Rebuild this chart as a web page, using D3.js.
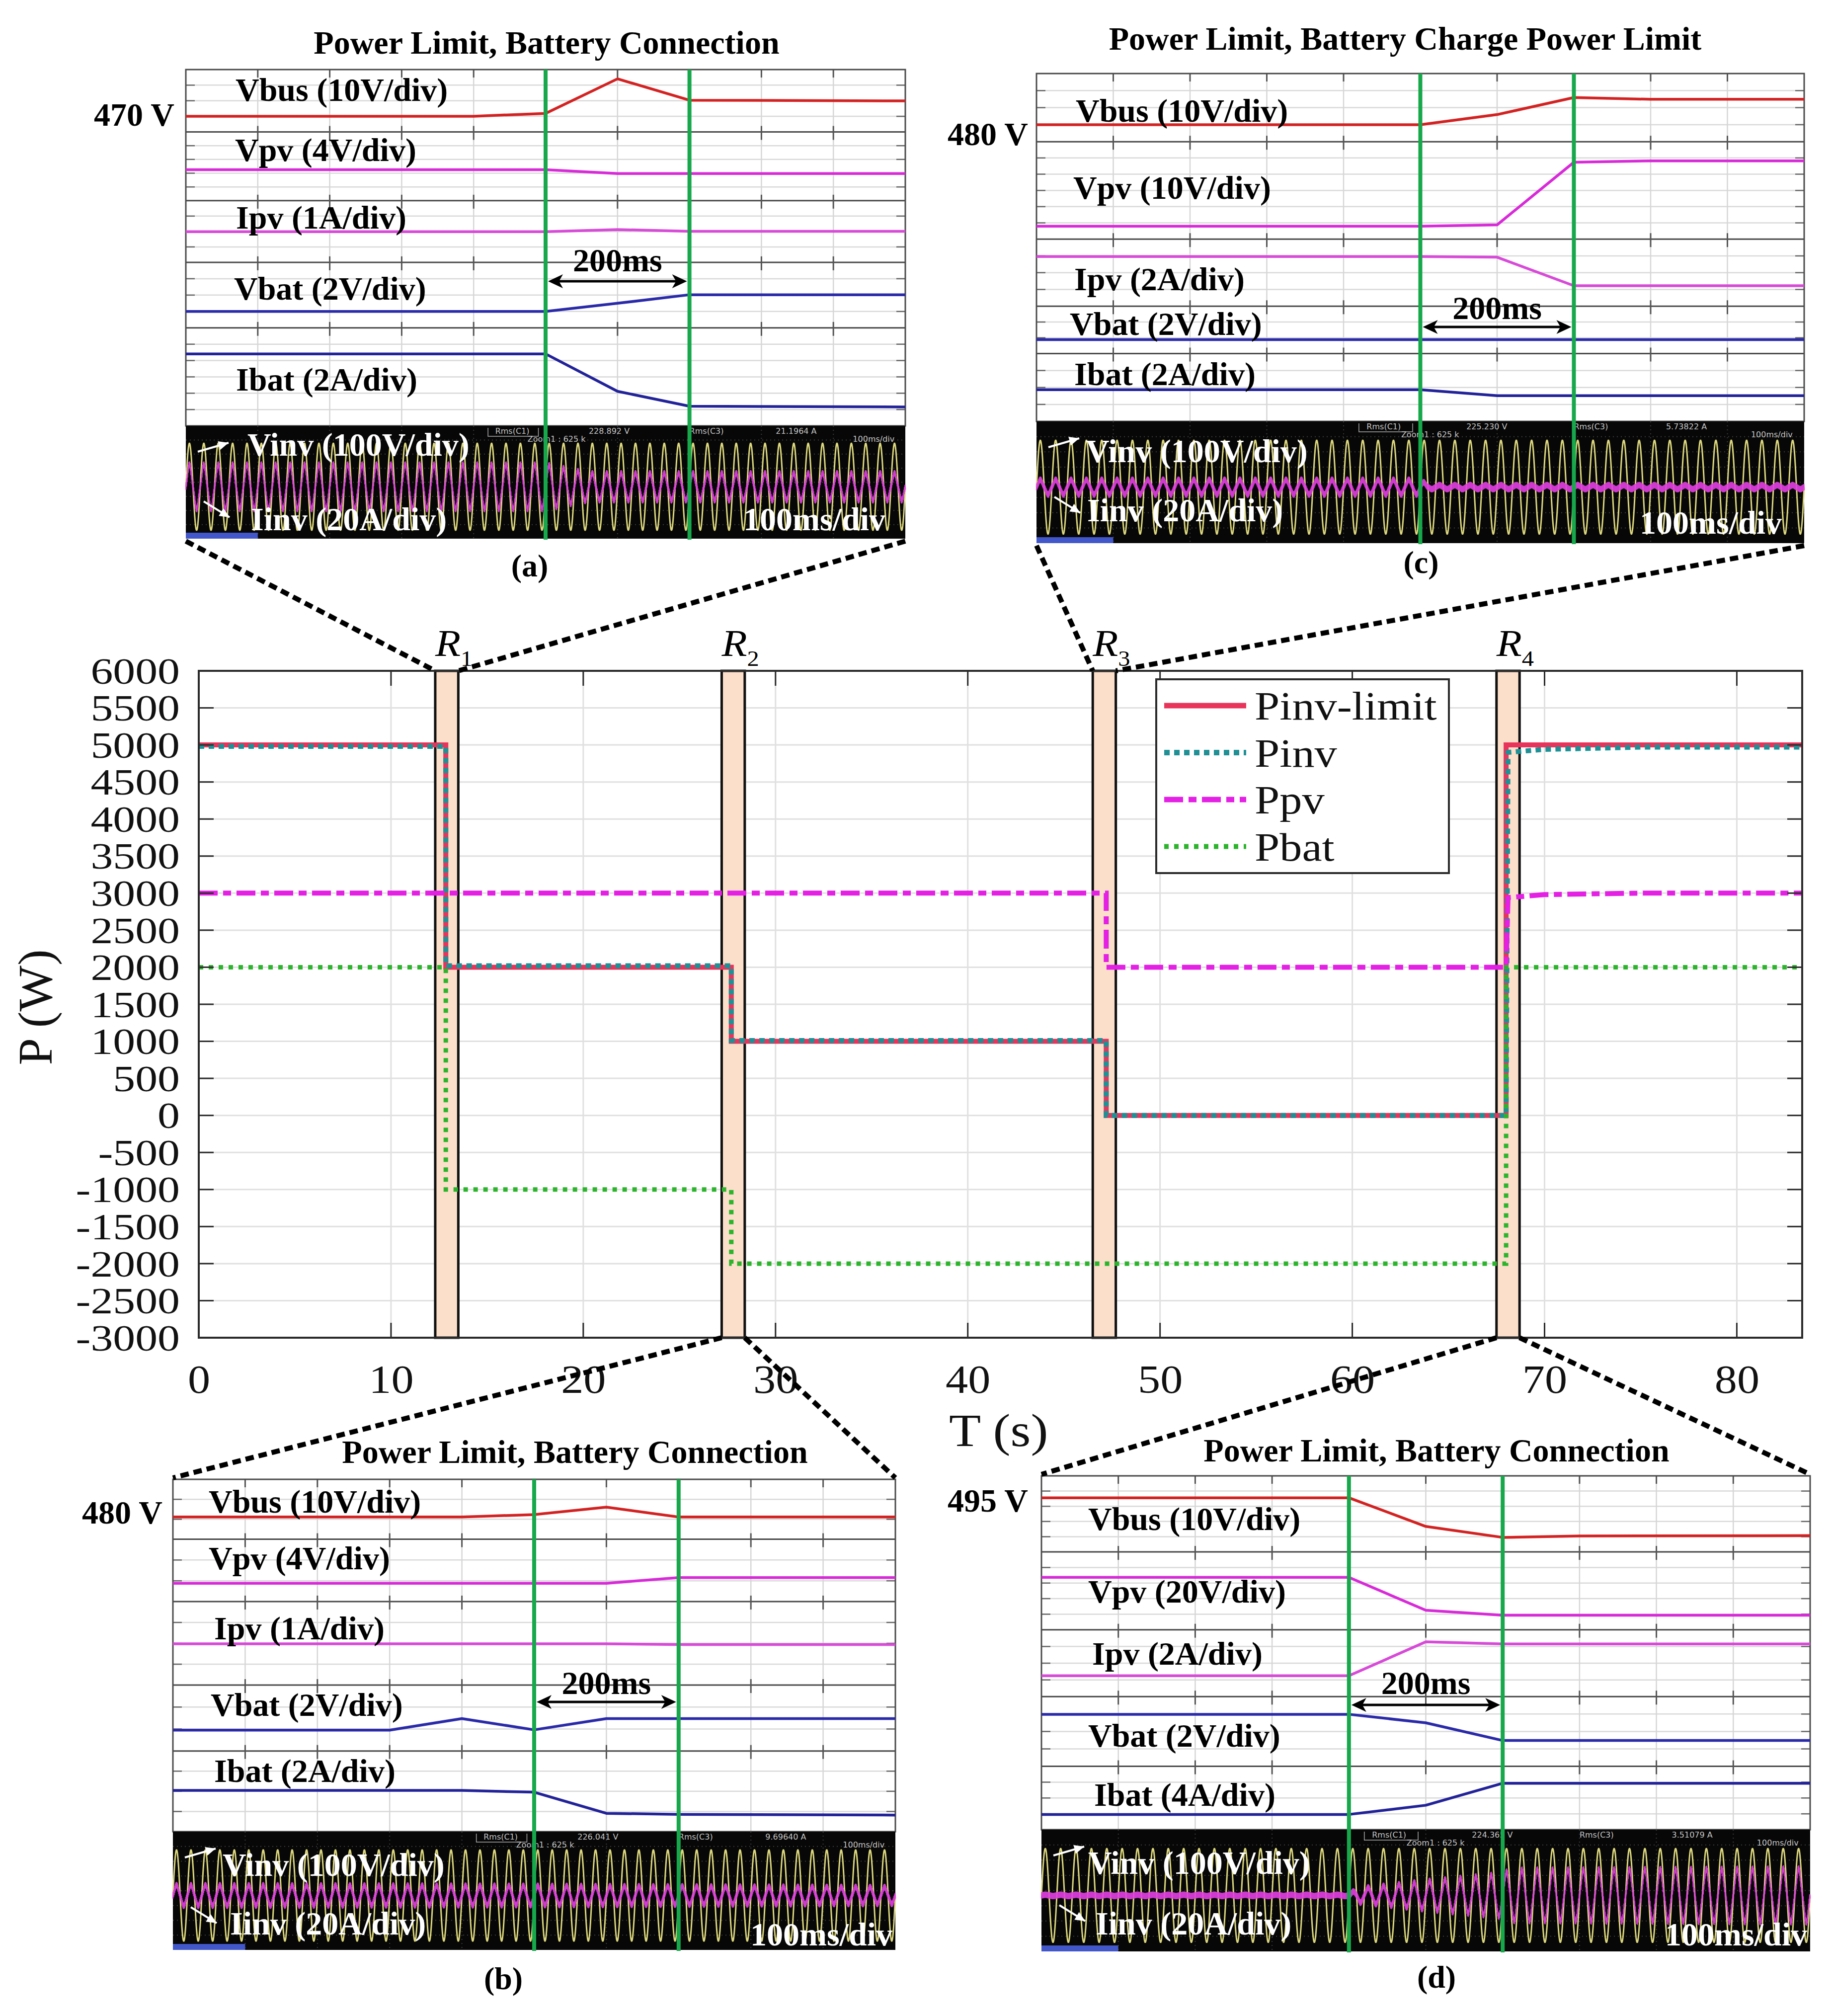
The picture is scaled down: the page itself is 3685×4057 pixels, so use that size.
<!DOCTYPE html>
<html><head><meta charset="utf-8">
<script src="https://cdn.jsdelivr.net/npm/d3@7"></script>
<style>body{margin:0;background:#fff}</style>
</head><body>
<svg id="fig" width="3685" height="4057" xmlns="http://www.w3.org/2000/svg"></svg>
<script>
// ================= MAIN CHART DATA =================
const xTickVals = [0, 10, 20, 30, 40, 50, 60, 70, 80];
const yTickVals = [-3000, -2500, -2000, -1500, -1000, -500, 0, 500, 1000, 1500, 2000, 2500, 3000, 3500, 4000, 4500, 5000, 5500, 6000];
const seriesNames = ["Pinv-limit", "Pinv", "Ppv", "Pbat"];
const pinvLimit = [[0,5000],[12.85,5000],[12.85,2000],[27.7,2000],[27.7,1000],[47.2,1000],[47.2,0],[68.0,0],[68.0,5000],[83.4,5000]];
const pinv = [[0,4980],[12.85,4980],[12.85,2020],[27.7,2020],[27.7,1010],[47.2,1010],[47.2,0],[68.0,0],[68.1,4900],[70,4940],[75,4970],[83.4,4970]];
const ppv = [[0,3000],[47.2,3000],[47.2,2000],[68.0,2000],[68.1,2940],[70,2980],[75,3000],[83.4,3000]];
const pbat = [[0,2000],[12.85,2000],[12.85,-1000],[27.7,-1000],[27.7,-2000],[68.0,-2000],[68.0,2000],[83.4,2000]];
const regions = [[12.3,13.5],[27.2,28.4],[46.5,47.7],[67.5,68.7]];
const regionSubs = ["1","2","3","4"];

// ================= OSCILLOSCOPE PANEL DATA (time ms, screen % from top) =================
const chanNamesAB = ["Vbus (10V/div)","Vpv (4V/div)","Ipv (1A/div)","Vbat (2V/div)","Ibat (2A/div)"];
const chanNamesC = ["Vbus (10V/div)","Vpv (10V/div)","Ipv (2A/div)","Vbat (2V/div)","Ibat (2A/div)"];
const chanNamesD = ["Vbus (10V/div)","Vpv (20V/div)","Ipv (2A/div)","Vbat (2V/div)","Ibat (4A/div)"];
const panelTitles = ["Power Limit, Battery Connection","Power Limit, Battery Connection","Power Limit, Battery Charge Power Limit","Power Limit, Battery Connection"];
const panelLetters = ["(a)","(b)","(c)","(d)"];
const busLevels = ["470 V","480 V","480 V","495 V"];
const rmsVolt = ["228.892 V","226.041 V","225.230 V","224.365 V"];
const rmsAmp = ["21.1964 A","9.69640 A","5.73822 A","3.51079 A"];

const aVbus = [[0,13.1],[400,13.1],[500,12.3],[600,2.6],[700,8.6],[1000,8.8]];
const aVpv  = [[0,28.1],[500,28.1],[600,29.2],[1000,29.2]];
const aIpv  = [[0,45.5],[500,45.5],[600,44.9],[700,45.4],[1000,45.4]];
const aVbat = [[0,67.9],[500,67.9],[600,65.6],[700,63.2],[1000,63.2]];
const aIbat = [[0,79.8],[500,79.8],[600,90.3],[700,94.5],[1000,94.7]];
const aIinvEnv = [[0,18],[500,18],[560,11],[1000,11]];

const bVbus = [[0,10.7],[400,10.7],[500,10.0],[600,7.9],[700,10.7],[1000,10.7]];
const bVpv  = [[0,29.5],[600,29.5],[700,27.9],[1000,27.9]];
const bIpv  = [[0,46.7],[600,46.7],[700,46.9],[1000,46.9]];
const bVbat = [[0,71.2],[300,71.2],[400,67.9],[500,71.1],[600,67.9],[1000,67.9]];
const bIbat = [[0,88.3],[400,88.3],[500,88.8],[600,94.8],[700,95.1],[1000,95.3]];
const bIinvEnv = [[0,8],[500,7.5],[1000,6.5]];

const cVbus = [[0,14.7],[500,14.7],[600,11.8],[700,6.9],[800,7.4],[1000,7.4]];
const cVpv  = [[0,43.9],[500,43.9],[600,43.5],[700,25.5],[800,25.1],[1000,25.1]];
const cIpv  = [[0,52.6],[500,52.6],[600,52.8],[700,61.0],[1000,61.0]];
const cVbat = [[0,76.5],[1000,76.5]];
const cIbat = [[0,90.9],[500,90.9],[600,92.6],[1000,92.6]];
const cIinvEnv = [[0,5.5],[500,5.5],[510,1.5],[1000,1.5]];

const dVbus = [[0,6.2],[400,6.2],[500,14.3],[600,17.4],[700,17.0],[1000,16.9]];
const dVpv  = [[0,28.7],[400,28.7],[500,38.0],[600,39.4],[1000,39.4]];
const dIpv  = [[0,56.5],[400,56.5],[500,46.9],[600,47.5],[1000,47.5]];
const dVbat = [[0,67.4],[400,67.4],[500,69.8],[600,74.8],[1000,74.8]];
const dIbat = [[0,95.7],[400,95.7],[500,93.1],[600,86.9],[1000,86.9]];
const dIinvEnv = [[0,0.5],[400,0.5],[410,5],[500,10.5],[600,16],[610,19],[1000,20]];

const vinvAmp = 38.5;        // % of black area height
const acCycles = 50;         // 50 Hz over 1000 ms
const iinvRipple = 2.6;      // switching ripple band, % of black height

// ================= DRAWING =================
const SERIF = "'Liberation Serif','Times New Roman',serif";
const svg = d3.select("#fig");
svg.append("rect").attr("width",3685).attr("height",4057).attr("fill","#fff");

function stext(parent, x, y, str, size, opt={}) {
  const t = parent.append("text")
    .attr("transform", `translate(${x},${y}) scale(${opt.sx||1},1)`)
    .attr("font-family", SERIF).attr("font-size", size)
    .attr("font-weight", opt.bold ? "bold" : "normal")
    .attr("font-style", opt.italic ? "italic" : "normal")
    .attr("text-anchor", opt.anchor || "start")
    .attr("fill", opt.fill || "#000")
    .text(str);
  return t;
}

// ---------- main chart ----------
const M = {l:400, r:3627, t:1350, b:2692};
const x = d3.scaleLinear().domain([0, 83.4]).range([M.l, M.r]);
const y = d3.scaleLinear().domain([-3000, 6000]).range([M.b, M.t]);
const main = svg.append("g");

main.append("g").selectAll("line").data(xTickVals.filter(v => v > 0)).join("line")
  .attr("x1", d => x(d)).attr("x2", d => x(d)).attr("y1", M.t).attr("y2", M.b)
  .attr("stroke", "#e0e0e0").attr("stroke-width", 3);
main.append("g").selectAll("line").data(yTickVals.filter(v => v > -3000 && v < 6000)).join("line")
  .attr("x1", M.l).attr("x2", M.r).attr("y1", d => y(d)).attr("y2", d => y(d))
  .attr("stroke", "#e0e0e0").attr("stroke-width", 3);

main.append("g").selectAll("rect").data(regions).join("rect")
  .attr("x", d => x(d[0])).attr("width", d => x(d[1]) - x(d[0]))
  .attr("y", M.t).attr("height", M.b - M.t)
  .attr("fill", "#fbdfca").attr("stroke", "#111").attr("stroke-width", 5);

const seriesStyle = [
  {data: pinvLimit, color: "#e8345a", w: 10, dash: null},
  {data: pinv, color: "#1f9095", w: 10, dash: "11 9"},
  {data: ppv, color: "#e320e3", w: 10, dash: "38 11 16 11"},
  {data: pbat, color: "#2cb52c", w: 9, dash: "9 11"}
];
const line = d3.line().x(d => x(d[0])).y(d => y(d[1]));
seriesStyle.forEach(s => {
  main.append("path").attr("d", line(s.data)).attr("fill", "none")
    .attr("stroke", s.color).attr("stroke-width", s.w)
    .attr("stroke-dasharray", s.dash);
});

main.append("rect").attr("x", M.l).attr("y", M.t).attr("width", M.r - M.l).attr("height", M.b - M.t)
  .attr("fill", "none").attr("stroke", "#2a2a2a").attr("stroke-width", 4);
main.append("g").selectAll("line").data(yTickVals).join("line")
  .attr("x1", M.r - 30).attr("x2", M.r).attr("y1", d => y(d)).attr("y2", d => y(d))
  .attr("stroke", "#2a2a2a").attr("stroke-width", 3);
main.append("g").selectAll("line").data(yTickVals).join("line")
  .attr("x1", M.l).attr("x2", M.l + 30).attr("y1", d => y(d)).attr("y2", d => y(d))
  .attr("stroke", "#2a2a2a").attr("stroke-width", 3);
main.append("g").selectAll("line").data(xTickVals).join("line")
  .attr("x1", d => x(d)).attr("x2", d => x(d)).attr("y1", M.t).attr("y2", M.t + 30)
  .attr("stroke", "#2a2a2a").attr("stroke-width", 3);
main.append("g").selectAll("line").data(xTickVals).join("line")
  .attr("x1", d => x(d)).attr("x2", d => x(d)).attr("y1", M.b - 30).attr("y2", M.b)
  .attr("stroke", "#2a2a2a").attr("stroke-width", 3);

const yAxis = main.append("g").attr("transform", `translate(${M.l},0)`)
  .call(d3.axisLeft(y).tickValues(yTickVals).tickSize(0).tickPadding(28).tickFormat(d => String(d)));
yAxis.select(".domain").remove();
yAxis.selectAll("text").attr("font-family", SERIF).attr("font-size", 66).attr("fill", "#111")
  .attr("dy", "0.34em").attr("transform", "scale(1.36,1.12)");
const xAxis = main.append("g").attr("transform", `translate(0,${M.b})`)
  .call(d3.axisBottom(x).tickValues(xTickVals).tickSize(0).tickPadding(54).tickFormat(d => String(d)));
xAxis.select(".domain").remove();
xAxis.selectAll("text").attr("font-family", SERIF).attr("font-size", 80).attr("fill", "#111")
  .attr("transform", "scale(1.13,1)");

main.append("text").attr("transform", `translate(104,${(M.t + M.b) / 2 + 6}) rotate(-90)`)
  .attr("text-anchor", "middle").attr("font-family", SERIF).attr("font-size", 98).attr("fill", "#111")
  .text("P (W)");
stext(main, 1910, 2910, "T (s)", 93, {sx: 1.13, fill: "#111"});

regions.forEach((r, i) => {
  const t = stext(main, x(r[0]), M.t - 30, "R", 76, {sx: 1.1, italic: true});
  t.append("tspan").attr("font-size", 44).attr("font-style", "normal").attr("dy", 20).text(regionSubs[i]);
});

const L = {x: 2327, y: 1367, w: 589, h: 390};
const leg = main.append("g");
leg.append("rect").attr("x", L.x).attr("y", L.y).attr("width", L.w).attr("height", L.h)
  .attr("fill", "#fff").attr("stroke", "#2a2a2a").attr("stroke-width", 4);
seriesStyle.forEach((s, i) => {
  const yy = L.y + 53 + i * 94.5;
  leg.append("line").attr("x1", L.x + 16).attr("x2", L.x + 181).attr("y1", yy).attr("y2", yy)
    .attr("stroke", s.color).attr("stroke-width", s.w + 1).attr("stroke-dasharray", s.dash);
  stext(leg, L.x + 198, yy + 28, seriesNames[i], 80, {sx: 1.13, fill: "#111"});
});

// ---------- oscilloscope panels ----------
function drawPanel(p) {
  const G = svg.append("g");
  const xs = d3.scaleLinear().domain([0, 1000]).range([p.x0, p.x1]);
  const ys = d3.scaleLinear().domain([0, 100]).range([p.yTop, p.yBlack]);
  const yb = d3.scaleLinear().domain([-50, 50]).range([p.yBottom, p.yBlack]);
  const divs = [100,200,300,400,500,600,700,800,900];

  G.append("rect").attr("x", p.x0).attr("y", p.yTop).attr("width", p.x1 - p.x0)
    .attr("height", p.yBlack - p.yTop).attr("fill", "#fff");
  const bounds = [0, ...p.bands, 100];
  const minor = [];
  for (let i = 0; i < bounds.length - 1; i++) {
    const n = p.subdivs[i];
    for (let k = 1; k < n; k++) minor.push(bounds[i] + (bounds[i + 1] - bounds[i]) * k / n);
  }
  G.append("g").selectAll("line").data(minor).join("line")
    .attr("x1", p.x0).attr("x2", p.x1).attr("y1", d => ys(d)).attr("y2", d => ys(d))
    .attr("stroke", "#d9d9d9").attr("stroke-width", 2.5);
  G.append("g").selectAll("line").data(divs).join("line")
    .attr("x1", d => xs(d)).attr("x2", d => xs(d)).attr("y1", p.yTop).attr("y2", p.yBlack)
    .attr("stroke", "#d6d6d6").attr("stroke-width", 2.5);
  G.append("g").selectAll("line").data(minor).join("line")
    .attr("x1", p.x0).attr("x2", p.x0 + 18).attr("y1", d => ys(d)).attr("y2", d => ys(d))
    .attr("stroke", "#666").attr("stroke-width", 2.5);
  G.append("g").selectAll("line").data(minor).join("line")
    .attr("x1", p.x1 - 18).attr("x2", p.x1).attr("y1", d => ys(d)).attr("y2", d => ys(d))
    .attr("stroke", "#666").attr("stroke-width", 2.5);
  G.append("g").selectAll("line").data(p.bands).join("line")
    .attr("x1", p.x0).attr("x2", p.x1).attr("y1", d => ys(d)).attr("y2", d => ys(d))
    .attr("stroke", "#4a4a4a").attr("stroke-width", 3);
  const crossY = [0, ...p.bands];
  crossY.forEach(by => {
    G.append("g").selectAll("line").data(divs).join("line")
      .attr("x1", d => xs(d)).attr("x2", d => xs(d))
      .attr("y1", ys(by) - (by === 0 ? 0 : 12)).attr("y2", ys(by) + 16)
      .attr("stroke", "#555").attr("stroke-width", 3);
  });
  G.append("rect").attr("x", p.x0).attr("y", p.yTop).attr("width", p.x1 - p.x0)
    .attr("height", p.yBlack - p.yTop).attr("fill", "none").attr("stroke", "#4a4a4a").attr("stroke-width", 3);

  const tl = d3.line().x(d => xs(d[0])).y(d => ys(d[1]));
  const tColors = ["#d42222", "#d82ad8", "#d84ad8", "#2a2aaa", "#22229a"];
  p.traces.forEach((tr, i) => {
    G.append("path").attr("d", tl(tr)).attr("fill", "none")
      .attr("stroke", tColors[i]).attr("stroke-width", 5.5).attr("stroke-linejoin", "round");
  });
  p.chanNames.forEach((nm, i) => {
    stext(G, p.x0 + p.lab[i][0], p.yTop + p.lab[i][1], nm, 66, {bold: true});
  });
  stext(G, p.x0 + p.vLab[0], p.yTop + p.vLab[1], p.busLevel, 66, {bold: true, anchor: "end"});
  stext(G, p.x0 + p.title[0], p.yTop + p.title[1], p.titleText, 66, {bold: true, anchor: "middle"});
  stext(G, p.x0 + p.letter[0], p.yTop + p.letter[1], p.letterText, 64, {bold: true, anchor: "middle"});

  G.append("rect").attr("x", p.x0).attr("y", p.yBlack).attr("width", p.x1 - p.x0)
    .attr("height", p.yBottom - p.yBlack).attr("fill", "#070707");
  G.append("g").selectAll("line").data(divs).join("line")
    .attr("x1", d => xs(d)).attr("x2", d => xs(d)).attr("y1", p.yBlack).attr("y2", p.yBottom)
    .attr("stroke", "#3c3c3c").attr("stroke-width", 2).attr("stroke-dasharray", "2 6");
  G.append("g").selectAll("line").data([-37.5,-25,-12.5,0,12.5,25,37.5]).join("line")
    .attr("x1", p.x0).attr("x2", p.x1).attr("y1", d => yb(d)).attr("y2", d => yb(d))
    .attr("stroke", "#3c3c3c").attr("stroke-width", 2).attr("stroke-dasharray", "2 6");

  const period = 1000 / acCycles;
  const ts = d3.range(0, 1000.001, 0.4);
  const env = d3.scaleLinear().domain(p.iinvEnv.map(d => d[0])).range(p.iinvEnv.map(d => d[1]));
  const off = -4;
  const vLine = d3.line().x(d => xs(d)).y(d => yb(off + vinvAmp * Math.sin(2 * Math.PI * d / period)));
  const iLine = d3.line().x(d => xs(d)).y((d, k) => {
    const th = 2 * Math.PI * d / period;
    const w = Math.sin(th) - Math.sin(3 * th) / 9;
    const rip = (k % 2 ? 1 : -1) * iinvRipple;
    return yb(off + env(d) * w + rip);
  });
  G.append("path").attr("d", vLine(ts)).attr("fill", "none").attr("stroke", "#dcd77c").attr("stroke-width", 3);
  G.append("path").attr("d", iLine(ts)).attr("fill", "none").attr("stroke", "#e03ee0").attr("stroke-width", 2.5).attr("opacity", 0.92);

  const info = G.append("g").attr("font-family", "'DejaVu Sans',sans-serif").attr("font-size", 16).attr("fill", "#c4c4c4");
  info.append("text").attr("x", xs(430)).attr("y", p.yBlack + 16).text("Rms(C1)");
  info.append("path").attr("d", `M${xs(420)},${p.yBlack + 4}V${p.yBlack + 21}H${xs(490)}V${p.yBlack + 4}`)
    .attr("fill", "none").attr("stroke", "#aaa").attr("stroke-width", 1.5);
  info.append("text").attr("x", xs(560)).attr("y", p.yBlack + 16).text(p.rmsV);
  info.append("text").attr("x", xs(700)).attr("y", p.yBlack + 16).text("Rms(C3)");
  info.append("text").attr("x", xs(820)).attr("y", p.yBlack + 16).text(p.rmsA);
  info.append("text").attr("x", xs(475)).attr("y", p.yBlack + 32).text("Zoom1 : 625 k");
  info.append("text").attr("x", xs(985)).attr("y", p.yBlack + 32).attr("text-anchor", "end").text("100ms/div");
  G.append("rect").attr("x", p.x0).attr("y", p.yBottom - 12).attr("width", xs(100) - p.x0).attr("height", 12).attr("fill", "#4257c9");

  stext(G, p.x0 + p.bl[0][0], p.yTop + p.bl[0][1], "Vinv (100V/div)", 66, {bold: true, fill: "#fff"});
  stext(G, p.x0 + p.bl[1][0], p.yTop + p.bl[1][1], "Iinv (20A/div)", 66, {bold: true, fill: "#fff"});
  stext(G, p.x0 + p.bl[2][0], p.yTop + p.bl[2][1], "100ms/div", 66, {bold: true, fill: "#fff", anchor: "end"});
  function wArrow(x1, y1, x2, y2) {
    G.append("line").attr("x1", x1).attr("y1", y1).attr("x2", x2).attr("y2", y2).attr("stroke", "#fff").attr("stroke-width", 4);
    const a = Math.atan2(y2 - y1, x2 - x1), L2 = 20, W2 = 9;
    const pts = [[x2, y2], [x2 - L2 * Math.cos(a) + W2 * Math.sin(a), y2 - L2 * Math.sin(a) - W2 * Math.cos(a)],
                 [x2 - L2 * Math.cos(a) - W2 * Math.sin(a), y2 - L2 * Math.sin(a) + W2 * Math.cos(a)]];
    G.append("polygon").attr("points", pts.map(q => q.join(",")).join(" ")).attr("fill", "#fff");
  }
  wArrow(p.x0 + 24, p.yBlack + 52, p.x0 + 86, p.yBlack + 34);
  wArrow(p.x0 + 36, p.yBlack + 152, p.x0 + 88, p.yBlack + 184);

  G.append("g").selectAll("line").data(p.greens).join("line")
    .attr("x1", d => xs(d)).attr("x2", d => xs(d)).attr("y1", p.yTop).attr("y2", p.yBottom + 2)
    .attr("stroke", "#17a84b").attr("stroke-width", 8);

  const ay = p.yTop + p.arrowY, ax1 = xs(p.greens[0]) + 5, ax2 = xs(p.greens[1]) - 5;
  G.append("line").attr("x1", ax1 + 20).attr("x2", ax2 - 20).attr("y1", ay).attr("y2", ay).attr("stroke", "#000").attr("stroke-width", 5);
  G.append("polygon").attr("points", `${ax1},${ay} ${ax1 + 30},${ay - 14} ${ax1 + 22},${ay} ${ax1 + 30},${ay + 14}`).attr("fill", "#000");
  G.append("polygon").attr("points", `${ax2},${ay} ${ax2 - 30},${ay - 14} ${ax2 - 22},${ay} ${ax2 - 30},${ay + 14}`).attr("fill", "#000");
  stext(G, (xs(p.greens[0]) + xs(p.greens[1])) / 2, p.yTop + p.msY, "200ms", 66, {bold: true, anchor: "middle"});
  return p;
}

const PA = drawPanel({x0: 374, x1: 1822, yTop: 140, yBlack: 857, yBottom: 1084,
  bands: [17.5, 36.8, 54.1, 72.5], subdivs: [4, 5, 4, 4, 6],
  traces: [aVbus, aVpv, aIpv, aVbat, aIbat], iinvEnv: aIinvEnv, greens: [500, 700],
  chanNames: chanNamesAB, lab: [[100, 63], [99, 184], [101, 320], [97, 463], [101, 646]],
  vLab: [-23, 113], busLevel: busLevels[0], title: [726, -32], titleText: panelTitles[0],
  letter: [692, 1020], letterText: panelLetters[0], bl: [[124, 777], [131, 927], [1408, 927]],
  arrowY: 426, msY: 406, rmsV: rmsVolt[0], rmsA: rmsAmp[0]});
const PB = drawPanel({x0: 348, x1: 1802, yTop: 2977, yBlack: 3686, yBottom: 3924,
  bands: [17.0, 34.7, 58.4, 77.1], subdivs: [3, 3, 4, 3, 4],
  traces: [bVbus, bVpv, bIpv, bVbat, bIbat], iinvEnv: bIinvEnv, greens: [500, 700],
  chanNames: chanNamesAB, lab: [[72, 67], [72, 181], [83, 322], [76, 476], [83, 609]],
  vLab: [-21, 89], busLevel: busLevels[1], title: [809, -33], titleText: panelTitles[1],
  letter: [665, 1026], letterText: panelLetters[1], bl: [[100, 798], [115, 916], [1448, 938]],
  arrowY: 448, msY: 432, rmsV: rmsVolt[1], rmsA: rmsAmp[1]});
const PC = drawPanel({x0: 2086, x1: 3631, yTop: 148, yBlack: 848, yBottom: 1093,
  bands: [19.6, 47.6, 66.9, 80.5], subdivs: [4, 6, 4, 3, 4],
  traces: [cVbus, cVpv, cIpv, cVbat, cIbat], iinvEnv: cIinvEnv, greens: [500, 700],
  chanNames: chanNamesC, lab: [[79, 97], [74, 252], [76, 436], [67, 526], [76, 627]],
  vLab: [-17, 144], busLevel: busLevels[2], title: [742, -48], titleText: panelTitles[2],
  letter: [774, 1005], letterText: panelLetters[2], bl: [[99, 782], [102, 901], [1500, 926]],
  arrowY: 510, msY: 494, rmsV: rmsVolt[2], rmsA: rmsAmp[2]});
const PD = drawPanel({x0: 2096, x1: 3643, yTop: 2970, yBlack: 3682, yBottom: 3927,
  bands: [21.5, 43.5, 62.4, 82.1], subdivs: [5, 5, 4, 4, 4],
  traces: [dVbus, dVpv, dIpv, dVbat, dIbat], iinvEnv: dIinvEnv, greens: [400, 600],
  chanNames: chanNamesD, lab: [[94, 109], [94, 255], [102, 380], [94, 545], [106, 664]],
  vLab: [-27, 72], busLevel: busLevels[3], title: [795, -29], titleText: panelTitles[3],
  letter: [795, 1030], letterText: panelLetters[3], bl: [[94, 801], [109, 923], [1541, 945]],
  arrowY: 461, msY: 439, rmsV: rmsVolt[3], rmsA: rmsAmp[3]});

const conn = [
  [[PA.x0, PA.yBottom + 5], [x(regions[0][0]), M.t]],
  [[PA.x1, PA.yBottom + 5], [x(regions[0][1]), M.t]],
  [[PC.x0, PC.yBottom + 5], [x(regions[2][0]), M.t]],
  [[PC.x1, PC.yBottom + 5], [x(regions[2][1]), M.t]],
  [[x(regions[1][0]), M.b], [PB.x0, PB.yTop - 3]],
  [[x(regions[1][1]), M.b], [PB.x1, PB.yTop - 3]],
  [[x(regions[3][0]), M.b], [PD.x0, PD.yTop - 3]],
  [[x(regions[3][1]), M.b], [PD.x1, PD.yTop - 3]]
];
svg.append("g").selectAll("line").data(conn).join("line")
  .attr("x1", d => d[0][0]).attr("y1", d => d[0][1]).attr("x2", d => d[1][0]).attr("y2", d => d[1][1])
  .attr("stroke", "#000").attr("stroke-width", 10).attr("stroke-dasharray", "17 10");
</script>
</body></html>
